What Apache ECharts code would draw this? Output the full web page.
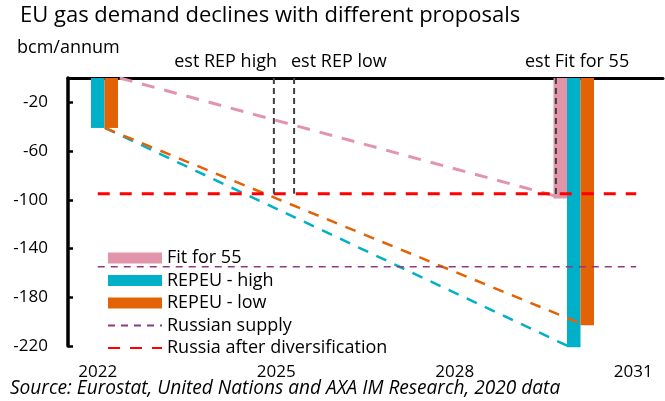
<!DOCTYPE html>
<html>
<head>
<meta charset="utf-8">
<script src="https://cdn.jsdelivr.net/npm/echarts@6/dist/echarts.min.js"></script>
<style>
html, body { margin: 0; padding: 0; background: #fff; }
#gas-chart { width: 665px; height: 401px; }
</style>
</head>
<body>
<div id="gas-chart"></div>
<script>
// years on the category axis
var years = ['2022', '2023', '2024', '2025', '2026', '2027', '2028', '2029', '2030', '2031'];
var yTicks = [-220, -180, -140, -100, -60, -20];

// bars, bcm/annum (null = no bar)
var fit55 = [null, null, null, null, null, null, null, null, -99, null];
var repHigh = [-41, null, null, null, null, null, null, null, -221, null];
var repLow = [-41, null, null, null, null, null, null, null, -203, null];

// dashed lines as [year, value]
var fit55Path = [[2022.37, 0], [2029.70, -97]];
var repHighPath = [[2022.12, -41], [2029.90, -220]];
var repLowPath = [[2022.12, -41], [2030.14, -202]];
var russianSupply = [[2022, -155], [2031.05, -155]];
var afterDiversification = [[2022, -95], [2031.05, -95]];
var estRepHigh = [[2024.96, 0], [2024.96, -95]];
var estRepLow = [[2025.30, 0], [2025.30, -95]];
var estFit55 = [[2029.70, 0], [2029.70, -97]];

var font = 'Open Sans';
var myChart = echarts.init(document.getElementById('gas-chart'), null, { renderer: 'canvas' });

function dashLine(name, data, color, width, dash) {
    return {
        name: name,
        type: 'line',
        xAxisIndex: 2,
        data: data,
        symbol: 'none',
        silent: true,
        lineStyle: { color: color, width: width, type: dash },
        itemStyle: { color: color }
    };
}

var option = {
    animation: false,
    backgroundColor: '#fff',
    textStyle: { fontFamily: font },
    grid: { left: 68, right: 2, top: 78, bottom: 55, outerBoundsMode: 'none' },
    xAxis: [
        {   // line + ticks along the zero line at the top
            type: 'category',
            data: years,
            position: 'top',
            axisLine: { onZero: false, lineStyle: { color: '#000', width: 3 } },
            axisTick: { inside: true, length: 5, lineStyle: { color: '#000', width: 2.5 } },
            axisLabel: { show: false },
            splitLine: { show: false }
        },
        {   // year labels at the bottom
            type: 'category',
            data: years,
            position: 'bottom',
            axisLine: { show: false },
            axisTick: { show: false },
            axisLabel: { interval: 2, margin: 18, fontSize: 17, color: '#000', fontFamily: font },
            splitLine: { show: false }
        },
        {   // hidden numeric year scale for the dashed lines
            type: 'value',
            min: 2021.5,
            max: 2031.5,
            show: false
        }
    ],
    yAxis: {
        type: 'value',
        min: yTicks[0],
        max: 0,
        interval: 40,
        axisLine: { show: true, lineStyle: { color: '#000', width: 3.5 } },
        axisTick: { show: true, inside: true, length: 5, lineStyle: { color: '#000', width: 2.5 } },
        axisLabel: { showMaxLabel: false, margin: 20, fontSize: 17, color: '#000', fontFamily: font },
        splitLine: { show: false }
    },
    legend: {
        orient: 'vertical',
        left: 107,
        top: 249,
        padding: 0,
        itemWidth: 54,
        itemHeight: 11,
        itemGap: 4.5,
        textStyle: { fontSize: 18, lineHeight: 18, color: '#000', fontFamily: font },
        data: [
            { name: 'Fit for 55', icon: 'rect' },
            { name: 'REPEU - high', icon: 'rect' },
            { name: 'REPEU - low', icon: 'rect' },
            { name: 'Russian supply', itemStyle: { opacity: 0 } },
            { name: 'Russia after diversification', itemStyle: { opacity: 0 } }
        ]
    },
    graphic: [
        { type: 'text', left: 20, top: 5, style: { text: 'EU gas demand declines with different proposals', font: '22px "Open Sans"', fill: '#000' } },
        { type: 'text', left: 17, top: 39, style: { text: 'bcm/annum', font: '18px "Open Sans"', fill: '#000' } },
        { type: 'text', right: 388, top: 53, style: { text: 'est REP high', font: '18px "Open Sans"', fill: '#000' } },
        { type: 'text', left: 291, top: 53, style: { text: 'est REP low', font: '18px "Open Sans"', fill: '#000' } },
        { type: 'text', left: 525, top: 53, style: { text: 'est Fit for 55', font: '18px "Open Sans"', fill: '#000' } },
        { type: 'text', left: 10, top: 379, style: { text: 'Source: Eurostat, United Nations and AXA IM Research, 2020 data', font: 'italic 19.1px "Open Sans"', fill: '#000' } }
    ],
    series: [
        { name: 'Fit for 55', type: 'bar', data: fit55, barWidth: 13.5, barGap: '0%', clip: false, itemStyle: { color: '#E295AA' } },
        { name: 'REPEU - high', type: 'bar', data: repHigh, barWidth: 13.5, barGap: '0%', clip: false, itemStyle: { color: '#00AFC8' } },
        { name: 'REPEU - low', type: 'bar', data: repLow, barWidth: 13.5, barGap: '0%', clip: false, itemStyle: { color: '#E26205' } },
        dashLine('fit55 path', fit55Path, '#E295AA', 3, [13, 10]),
        dashLine('high path', repHighPath, '#00AFC8', 2.5, [11, 9]),
        dashLine('low path', repLowPath, '#E26205', 2.5, [11, 9]),
        dashLine('Russian supply', russianSupply, '#8E3A80', 1.5, [7, 6]),
        dashLine('Russia after diversification', afterDiversification, '#FF0000', 3, [12, 10]),
        dashLine('est REP high', estRepHigh, '#404040', 2, [6, 4]),
        dashLine('est REP low', estRepLow, '#404040', 2, [6, 4]),
        dashLine('est Fit for 55', estFit55, '#404040', 2, [6, 4])
    ]
};

myChart.setOption(option);
</script>
</body>
</html>
